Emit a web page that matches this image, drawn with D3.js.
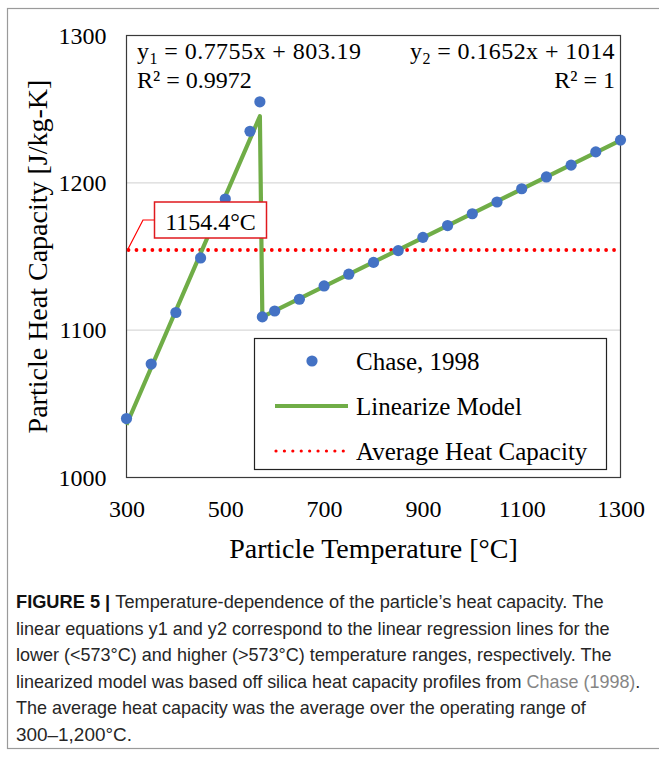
<!DOCTYPE html>
<html><head><meta charset="utf-8">
<script src="https://cdn.jsdelivr.net/npm/d3@7"></script>
<style>body{margin:0;background:#fff} svg{display:block}</style>
</head><body>
<svg id="c" width="659" height="759"></svg>
<script>
// ---- data ----
const chaseTemps = [300, 350, 400, 450, 500, 550, 570, 575, 600, 650, 700, 750, 800, 850, 900, 950, 1000, 1050, 1100, 1150, 1200, 1250, 1300];
const chaseCp    = [1040, 1077, 1112, 1149, 1189, 1235, 1255, 1109, 1113, 1121, 1130, 1138, 1146, 1154, 1163, 1171, 1179, 1187, 1196, 1204, 1212, 1221, 1229];
const modelTemps = [300, 570, 575, 1300];
const modelCp    = [1035.8, 1245.2, 1109.0, 1228.8];
const avgCp = 1154.4;
const avgLabel = "1154.4°C";
const xTicks = [300, 500, 700, 900, 1100, 1300];
const yTicks = [1000, 1100, 1200, 1300];
const legendLabels = ["Chase, 1998", "Linearize Model", "Average Heat Capacity"];
const xTitle = "Particle Temperature [°C]";
const yTitle = "Particle Heat Capacity [J/kg-K]";
const eq1 = {sub: "1", rest: " = 0.7755x + 803.19", r2: "R² = 0.9972"};
const eq2 = {sub: "2", rest: " = 0.1652x  + 1014", r2: "R² = 1"};
const captionLines = [
  [{t: "FIGURE 5 | ", b: true}, {t: "Temperature-dependence of the particle’s heat capacity. The"}],
  [{t: "linear equations y1 and y2 correspond to the linear regression lines for the"}],
  [{t: "lower (<573°C) and higher (>573°C) temperature ranges, respectively. The"}],
  [{t: "linearized model was based off silica heat capacity profiles from "}, {t: "Chase (1998)", link: true}, {t: "."}],
  [{t: "The average heat capacity was the average over the operating range of"}],
  [{t: "300–1,200°C."}]
];
const captionEnds = [604, 610, 612, 641, 586, 132];

// ---- layout ----
const svg = d3.select("#c");
const L = 126.5, R = 620.5, T = 35.5, B = 477.5;
const x = d3.scaleLinear().domain([300, 1300]).range([L, R]);
const y = d3.scaleLinear().domain([1000, 1300]).range([B, T]);
const serif = "'Liberation Serif','Times New Roman',serif";
const sans = "'Liberation Sans',Arial,Helvetica,sans-serif";
const blue = "#4472C4", green = "#70AD47", red = "#FF0000";

function fitWidth(sel, target) {
  const node = sel.node();
  const w = node.getComputedTextLength();
  const n = node.textContent.length;
  if (n > 1) sel.attr("letter-spacing", ((target - w) / (n - 1)).toFixed(3));
}

// outer frame
svg.append("rect").attr("x", 7.5).attr("y", 8.5).attr("width", 700).attr("height", 740)
  .attr("fill", "none").attr("stroke", "#9a9a9a").attr("stroke-width", 1.2);

// gridlines
svg.append("g").selectAll("line").data(yTicks.filter(d => d > 1000 && d < 1300)).join("line")
  .attr("x1", L).attr("x2", R).attr("y1", d => y(d)).attr("y2", d => y(d))
  .attr("stroke", "#d9d9d9").attr("stroke-width", 1.3);

// axes (labels only)
const xAxis = svg.append("g").attr("transform", `translate(0,${B})`)
  .call(d3.axisBottom(x).tickValues(xTicks).tickSize(0).tickPadding(22.5).tickFormat(d3.format("d")));
const yAxis = svg.append("g").attr("transform", `translate(${L},0)`)
  .call(d3.axisLeft(y).tickValues(yTicks).tickSize(0).tickPadding(20).tickFormat(d3.format("d")));
[xAxis, yAxis].forEach(a => {
  a.select(".domain").remove();
  a.selectAll("text").attr("font-family", serif).attr("font-size", 24).attr("fill", "#000");
});

// plot border
svg.append("rect").attr("x", L).attr("y", T).attr("width", R - L).attr("height", B - T)
  .attr("fill", "none").attr("stroke", "#3a3a3a").attr("stroke-width", 1.2);

// average line
svg.append("line").attr("x1", L + 2).attr("x2", R).attr("y1", y(avgCp)).attr("y2", y(avgCp))
  .attr("stroke", red).attr("stroke-width", 3.8).attr("stroke-linecap", "round")
  .attr("stroke-dasharray", "0.01 7.95");

// model line
const lineGen = d3.line().x(d => x(d[0])).y(d => y(d[1]));
svg.append("path").datum(modelTemps.map((t, i) => [t, modelCp[i]]))
  .attr("d", lineGen).attr("fill", "none").attr("stroke", green).attr("stroke-width", 4.2)
  .attr("stroke-linejoin", "round");

// points
svg.append("g").selectAll("circle").data(chaseTemps.map((t, i) => [t, chaseCp[i]])).join("circle")
  .attr("cx", d => x(d[0])).attr("cy", d => y(d[1])).attr("r", 5.6).attr("fill", blue);

// annotation callout
svg.append("path").attr("d", `M${L + 1},${y(avgCp)} L143,220 L154,220`)
  .attr("fill", "none").attr("stroke", red).attr("stroke-width", 1.2);
svg.append("rect").attr("x", 154.5).attr("y", 202).attr("width", 112).attr("height", 36)
  .attr("fill", "#fff").attr("stroke", "#E0191E").attr("stroke-width", 1.5);
svg.append("text").attr("x", 210.5).attr("y", 229.5).attr("text-anchor", "middle")
  .attr("font-family", serif).attr("font-size", 24).text(avgLabel);

// equations
function eq(xp, anchor, e, target) {
  const t = svg.append("text").attr("x", xp).attr("y", 59).attr("text-anchor", anchor)
    .attr("font-family", serif).attr("font-size", 24);
  t.append("tspan").text("y");
  t.append("tspan").attr("font-size", 16).attr("dy", 5).text(e.sub);
  t.append("tspan").attr("dy", -5).text(e.rest);
  fitWidth(t, target);
  svg.append("text").attr("x", xp).attr("y", 88).attr("text-anchor", anchor)
    .attr("font-family", serif).attr("font-size", 24).text(e.r2);
}
eq(137, "start", eq1, 224);
eq(615, "end", eq2, 205);

// legend
const lg = svg.append("g");
lg.append("rect").attr("x", 254.5).attr("y", 338.5).attr("width", 352).attr("height", 131)
  .attr("fill", "#fff").attr("stroke", "#222").attr("stroke-width", 1.2);
const rowY = [361, 406, 451];
lg.append("circle").attr("cx", 312).attr("cy", rowY[0]).attr("r", 5.6).attr("fill", blue);
lg.append("line").attr("x1", 275).attr("x2", 348).attr("y1", rowY[1]).attr("y2", rowY[1])
  .attr("stroke", green).attr("stroke-width", 4.2);
lg.append("line").attr("x1", 276).attr("x2", 348).attr("y1", rowY[2]).attr("y2", rowY[2])
  .attr("stroke", red).attr("stroke-width", 3.2).attr("stroke-linecap", "round")
  .attr("stroke-dasharray", "0.01 8.4");
lg.selectAll("text.lt").data(legendLabels).join("text").attr("class", "lt")
  .attr("x", 356).attr("y", (d, i) => rowY[i] + 8.5)
  .attr("font-family", serif).attr("font-size", 25).attr("fill", "#000").text(d => d);

// axis titles
svg.append("text").attr("x", (L + R) / 2).attr("y", 558).attr("text-anchor", "middle")
  .attr("font-family", serif).attr("font-size", 28).text(xTitle);
svg.append("text").attr("transform", `translate(47,${(T + B) / 2}) rotate(-90)`)
  .attr("text-anchor", "middle").attr("font-family", serif).attr("font-size", 28).text(yTitle);

// caption (condensed sans, squeezed horizontally to the reference line widths)
captionLines.forEach((parts, i) => {
  const t = svg.append("text").attr("x", 0).attr("y", 0)
    .attr("font-family", sans).attr("font-size", 17.5).attr("fill", "#262626");
  parts.forEach(p => {
    const s = t.append("tspan").text(p.t);
    if (p.b) s.attr("font-weight", "bold").attr("fill", "#111");
    if (p.link) s.attr("fill", "#858585");
  });
  const w = t.node().getComputedTextLength();
  const sx = (captionEnds[i] - 16) / w;
  t.attr("transform", `translate(16,${608 + i * 26.5}) scale(${sx.toFixed(4)},1)`);
});
</script>
</body></html>
